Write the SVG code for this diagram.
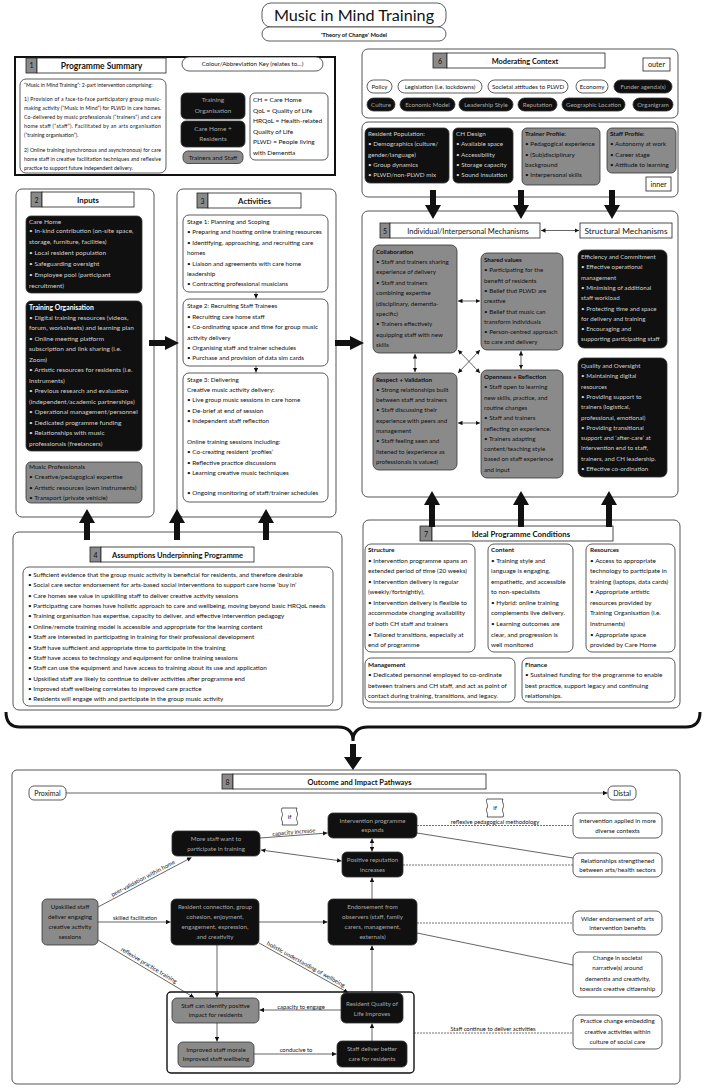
<svg xmlns="http://www.w3.org/2000/svg" width="706" height="1088" viewBox="0 0 706 1088">
<style>
text{font-family:Lato,"Open Sans","Liberation Sans",sans-serif;fill:#111}
.s{font-size:6.5px}
.p{font-size:6.3px}
.a{font-size:6.3px}
.i{font-size:6.4px}
.s5{font-size:5.2px}
.m{font-size:6.2px}
.w{fill:#cfcfcf}
.g{fill:#a8a8a8}
.b{font-weight:bold}
.c{text-anchor:middle}
.box{fill:#fff;stroke:#555;stroke-width:1}
.blk{fill:#101010;stroke:#333;stroke-width:0.8}
.gry{fill:#8a8a8a;stroke:#333;stroke-width:0.8}
.num{fill:#8a8a8a;stroke:#222;stroke-width:0.8}
.hb{fill:#fff;stroke:#222;stroke-width:0.8}
.wb{fill:#fff;stroke:#333;stroke-width:0.8}
.big{fill:#111}
.ln{stroke:#222;stroke-width:0.7;fill:none}
.dl{stroke:#333;stroke-width:0.7;stroke-dasharray:2 1;fill:none}
.lb{font-size:5.8px}
</style>
<defs>
<marker id="a" viewBox="0 0 6 6" refX="6" refY="3" markerWidth="4.5" markerHeight="4.5" orient="auto-start-reverse" markerUnits="userSpaceOnUse"><path d="M0,0L6,3L0,6Z" fill="#111"/></marker>
</defs>
<rect width="706" height="1088" fill="#fff"/>

<g id="title">
<rect x="262" y="3" width="184" height="24" rx="9" class="wb"/>
<rect x="262" y="27" width="184" height="14" rx="7" class="wb"/>
<text x="354" y="21" class="c" style="font-size:16.2px">Music in Mind Training</text>
<text x="354" y="36.5" class="c b" style="font-size:5.8px">'Theory of Change' Model</text>
</g>

<g id="s1">
<rect x="15" y="57" width="320" height="118" fill="#fff" stroke="#111" stroke-width="2"/>
<rect x="26" y="58" width="11" height="15" class="num"/>
<rect x="37" y="58" width="129" height="15" class="hb"/>
<text x="31.5" y="68" class="c" style="font-size:7px">1</text>
<text x="101.5" y="68.5" class="c b" style="font-size:8.5px">Programme Summary</text>
<rect x="20" y="79" width="146" height="94" rx="6" class="wb"/>
<text x="24" y="86.7" class="s5">“Music in Mind Training”: 2-part intervention comprising:</text>
<text x="24" y="100.7" class="s5" textLength="137" lengthAdjust="spacing">1) Provision of a face-to-face participatory group music-</text>
<text x="24" y="109.7" class="s5" textLength="137" lengthAdjust="spacing">making activity (“Music in Mind”) for PLWD in care homes.</text>
<text x="24" y="118.7" class="s5" textLength="137" lengthAdjust="spacing">Co-delivered by music professionals (“trainers”) and care</text>
<text x="24" y="128" class="s5" textLength="137" lengthAdjust="spacing">home staff (“staff”). Facilitated by an arts organisation</text>
<text x="24" y="137.2" class="s5">(“training organisation”).</text>
<text x="24" y="151.5" class="s5" textLength="137" lengthAdjust="spacing">2) Online training (synchronous and asynchronous) for care</text>
<text x="24" y="160.5" class="s5" textLength="137" lengthAdjust="spacing">home staff in creative facilitation techniques and reflexive</text>
<text x="24" y="169.5" class="s5">practice to support future independent delivery.</text>
</g>

<g id="key">
<rect x="182" y="57" width="141" height="14" rx="7" class="wb"/>
<text x="252.5" y="66.2" class="c" style="font-size:6.2px">Colour/Abbreviation Key (relates to...)</text>
<rect x="181" y="93" width="64" height="26" rx="5" class="blk"/>
<text x="213" y="102.3" class="c g" style="font-size:6.5px">Training</text>
<text x="213" y="112.8" class="c g" style="font-size:6.5px">Organisation</text>
<rect x="181" y="121" width="64" height="26" rx="5" class="blk"/>
<text x="213" y="130.8" class="c g" style="font-size:6.5px">Care Home +</text>
<text x="213" y="141.3" class="c g" style="font-size:6.5px">Residents</text>
<rect x="183" y="151" width="60" height="12.5" rx="5" class="gry"/>
<text x="213" y="159.6" class="c" style="font-size:6.4px">Trainers and Staff</text>
<rect x="250" y="93" width="78" height="67" rx="5" class="wb"/>
<text x="253" y="102.2" style="font-size:6.5px">CH = Care Home</text>
<text x="253" y="112.7" style="font-size:6.5px">QoL = Quality of Life</text>
<text x="253" y="123.2" style="font-size:6.5px">HRQoL = Health-related</text>
<text x="253" y="133.7" style="font-size:6.5px">Quality of Life</text>
<text x="253" y="144.2" style="font-size:6.5px">PLWD = People living</text>
<text x="253" y="154.7" style="font-size:6.5px">with Dementia</text>
</g>

<g id="s6">
<rect x="362" y="49" width="316" height="69" rx="6" class="box"/>
<rect x="433" y="53" width="14" height="15" class="num"/>
<rect x="447" y="53" width="158" height="15" class="hb"/>
<text x="440" y="63.5" class="c" style="font-size:7px">6</text>
<text x="525" y="63.5" class="c b" style="font-size:7.4px">Moderating Context</text>
<rect x="643" y="58" width="27" height="13" class="hb"/>
<text x="656.5" y="67" class="c" style="font-size:7.2px">outer</text>
<g style="font-size:6.1px">
<rect x="367" y="80" width="25" height="13" rx="6.5" class="wb"/><text x="379.5" y="88.7" class="c">Policy</text>
<rect x="398" y="80" width="84" height="13" rx="6.5" class="wb"/><text x="440" y="88.7" class="c">Legislation (i.e. lockdowns)</text>
<rect x="488" y="80" width="80" height="13" rx="6.5" class="wb"/><text x="528" y="88.7" class="c">Societal attitudes to PLWD</text>
<rect x="576" y="80" width="32" height="13" rx="6.5" class="wb"/><text x="592" y="88.7" class="c">Economy</text>
<rect x="614" y="80" width="58" height="13" rx="6.5" class="blk"/><text x="643" y="88.7" class="c g">Funder agenda(s)</text>
<rect x="367" y="98" width="28" height="13" rx="6.5" class="blk"/><text x="381" y="106.7" class="c g">Culture</text>
<rect x="400" y="98" width="55" height="13" rx="6.5" class="blk"/><text x="427.5" y="106.7" class="c g">Economic Model</text>
<rect x="459" y="98" width="54" height="13" rx="6.5" class="blk"/><text x="486" y="106.7" class="c g">Leadership Style</text>
<rect x="518" y="98" width="39" height="13" rx="6.5" class="blk"/><text x="537.5" y="106.7" class="c g">Reputation</text>
<rect x="562" y="98" width="63" height="13" rx="6.5" class="blk"/><text x="593.5" y="106.7" class="c g">Geographic Location</text>
<rect x="633" y="98" width="40" height="13" rx="6.5" class="blk"/><text x="653" y="106.7" class="c g">Organigram</text>
</g>
<rect x="362" y="122" width="316" height="75" rx="6" class="box"/>
<rect x="646" y="177" width="25" height="14" class="hb"/>
<text x="658.5" y="187" class="c" style="font-size:7.2px">inner</text>
<rect x="365" y="128" width="84" height="55" rx="5" class="blk"/>
<text x="368" y="136" class="p w">Resident Population:</text>
<text x="368" y="146.3" class="p w">• Demographics (culture/</text>
<text x="368" y="156.6" class="p w">gender/language)</text>
<text x="368" y="166.9" class="p w">• Group dynamics</text>
<text x="368" y="177.2" class="p w">• PLWD/non-PLWD mix</text>
<rect x="453" y="128" width="60" height="55" rx="5" class="blk"/>
<text x="456" y="136" class="p w">CH Design</text>
<text x="456" y="146.3" class="p w">• Available space</text>
<text x="456" y="156.6" class="p w">• Accessibility</text>
<text x="456" y="166.9" class="p w">• Storage capacity</text>
<text x="456" y="177.2" class="p w">• Sound insulation</text>
<rect x="522" y="128" width="78" height="57" rx="5" class="gry"/>
<text x="525" y="136" class="p b">Trainer Profile:</text>
<text x="525" y="146.3" class="p">• Pedagogical experience</text>
<text x="525" y="156.6" class="p">• (Sub)disciplinary</text>
<text x="525" y="166.9" class="p">background</text>
<text x="525" y="177.2" class="p">• Interpersonal skills</text>
<rect x="607" y="128" width="69" height="45" rx="5" class="gry"/>
<text x="610" y="136" class="p b">Staff Profile:</text>
<text x="610" y="146.3" class="p">• Autonomy at work</text>
<text x="610" y="156.6" class="p">• Career stage</text>
<text x="610" y="166.9" class="p">• Attitude to learning</text>
</g>

<g id="s2">
<rect x="16" y="189" width="138" height="328" rx="6" class="box"/>
<rect x="31" y="192" width="11" height="15" class="num"/>
<rect x="42" y="192" width="92" height="15" class="hb"/>
<text x="36.5" y="202.5" class="c" style="font-size:7px">2</text>
<text x="88" y="203" class="c b" style="font-size:7.8px">Inputs</text>
<rect x="26" y="216" width="116" height="77" rx="5" class="blk"/>
<text x="29" y="224" class="s w">Care Home</text>
<text x="29" y="233" class="s w">• In-kind contribution (on-site space,</text>
<text x="29" y="243.8" class="s w">storage, furniture, facilities)</text>
<text x="29" y="255.2" class="s w">• Local resident population</text>
<text x="29" y="266" class="s w">• Safeguarding oversight</text>
<text x="29" y="277" class="s w">• Employee pool (participant</text>
<text x="29" y="287.7" class="s w">recruitment)</text>
<rect x="26" y="301" width="116" height="150" rx="5" class="blk"/>
<text x="29" y="309.5" class="b" style="fill:#fff;font-size:6.8px">Training Organisation</text>
<text x="29" y="319.5" class="s w">• Digital training resources (videos,</text>
<text x="29" y="330" class="s w">forum, worksheets) and learning plan</text>
<text x="29" y="340.5" class="s w">• Online meeting platform</text>
<text x="29" y="351" class="s w">subscription and link sharing (i.e.</text>
<text x="29" y="361.5" class="s w">Zoom)</text>
<text x="29" y="372" class="s w">• Artistic resources for residents (i.e.</text>
<text x="29" y="382.5" class="s w">Instruments)</text>
<text x="29" y="393" class="s w">• Previous research and evaluation</text>
<text x="29" y="403.5" class="s w">(independent/academic partnerships)</text>
<text x="29" y="414" class="s w">• Operational management/personnel</text>
<text x="29" y="424.5" class="s w">• Dedicated programme funding</text>
<text x="29" y="435" class="s w">• Relationships with music</text>
<text x="29" y="445.5" class="s w">professionals (freelancers)</text>
<rect x="26" y="462" width="116" height="41" rx="5" class="gry"/>
<text x="29" y="468.8" class="s">Music Professionals</text>
<text x="29" y="479" class="s">• Creative/pedagogical expertise</text>
<text x="29" y="489.5" class="s">• Artistic resources (own instruments)</text>
<text x="29" y="500" class="s">• Transport (private vehicle)</text>
</g>

<g id="s3">
<rect x="177" y="189" width="159" height="328" rx="6" class="box"/>
<rect x="197" y="193" width="11" height="15" class="num"/>
<rect x="208" y="193" width="93" height="15" class="hb"/>
<text x="202.5" y="203.5" class="c" style="font-size:7px">3</text>
<text x="254.5" y="204" class="c b" style="font-size:7.8px">Activities</text>
<rect x="183" y="215" width="145" height="77" rx="6" class="wb"/>
<text x="187" y="224" class="a">Stage 1: Planning and Scoping</text>
<text x="187" y="234.4" class="a">• Preparing and hosting online training resources</text>
<text x="187" y="244.8" class="a">• Identifying, approaching, and recruiting care</text>
<text x="187" y="255.2" class="a">homes</text>
<text x="187" y="265.6" class="a">• Liaison and agreements with care home</text>
<text x="187" y="276" class="a">leadership</text>
<text x="187" y="286.4" class="a">• Contracting professional musicians</text>
<rect x="183" y="299" width="145" height="67" rx="6" class="wb"/>
<text x="187" y="308.3" class="a">Stage 2: Recruiting Staff Trainees</text>
<text x="187" y="318.7" class="a">• Recruiting care home staff</text>
<text x="187" y="329.1" class="a">• Co-ordinating space and time for group music</text>
<text x="187" y="339.5" class="a">activity delivery</text>
<text x="187" y="349.9" class="a">• Organising staff and trainer schedules</text>
<text x="187" y="360.3" class="a">• Purchase and provision of data sim cards</text>
<rect x="183" y="373" width="145" height="129" rx="6" class="wb"/>
<text x="187" y="382" class="a">Stage 3: Delivering</text>
<text x="187" y="392.2" class="a">Creative music activity delivery:</text>
<text x="187" y="402.4" class="a">• Live group music sessions in care home</text>
<text x="187" y="412.7" class="a">• De-brief at end of session</text>
<text x="187" y="423" class="a">• Independent staff reflection</text>
<text x="187" y="443.7" class="a">Online training sessions including:</text>
<text x="187" y="454.3" class="a">• Co-creating resident ‘profiles’</text>
<text x="187" y="464.7" class="a">• Reflective practice discussions</text>
<text x="187" y="475.3" class="a">• Learning creative music techniques</text>
<text x="187" y="495.3" class="a">• Ongoing monitoring of staff/trainer schedules</text>
</g>

<g id="s5">
<rect x="362" y="211" width="316" height="286" rx="6" class="box"/>
<rect x="380" y="223" width="10" height="15" class="num"/>
<rect x="390" y="223" width="150" height="15" class="hb"/>
<text x="385" y="233.5" class="c" style="font-size:7px">5</text>
<text x="468" y="233.6" class="c" style="font-size:7.5px">Individual/Interpersonal Mechanisms</text>
<rect x="580" y="223" width="92" height="15" class="hb"/>
<text x="626" y="233.9" class="c" style="font-size:8.3px">Structural Mechanisms</text>
<rect x="373" y="245" width="84" height="108" rx="6" class="gry"/>
<text x="376" y="253.7" class="m b">Collaboration</text>
<text x="376" y="264" class="m">• Staff and trainers sharing</text>
<text x="376" y="274.4" class="m">experience of delivery</text>
<text x="376" y="284.8" class="m">• Staff and trainers</text>
<text x="376" y="295.2" class="m">combining expertise</text>
<text x="376" y="305.6" class="m">(disciplinary, dementia-</text>
<text x="376" y="316" class="m">specific)</text>
<text x="376" y="326.4" class="m">• Trainers effectively</text>
<text x="376" y="336.8" class="m">equipping staff with new</text>
<text x="376" y="347.2" class="m">skills</text>
<rect x="481" y="253" width="82" height="97" rx="6" class="gry"/>
<text x="484" y="262" class="m b">Shared values</text>
<text x="484" y="272.3" class="m">• Participating for the</text>
<text x="484" y="282.6" class="m">benefit of residents</text>
<text x="484" y="292.9" class="m">• Belief that PLWD are</text>
<text x="484" y="303.2" class="m">creative</text>
<text x="484" y="313.5" class="m">• Belief that music can</text>
<text x="484" y="323.8" class="m">transform individuals</text>
<text x="484" y="334.1" class="m">• Person-centred approach</text>
<text x="484" y="344.4" class="m">to care and delivery</text>
<rect x="373" y="373" width="84" height="97" rx="6" class="gry"/>
<text x="376" y="381.5" class="m b">Respect + Validation</text>
<text x="376" y="391.8" class="m">• Strong relationships built</text>
<text x="376" y="402.1" class="m">between staff and trainers</text>
<text x="376" y="412.4" class="m">• Staff discussing their</text>
<text x="376" y="422.7" class="m">experience with peers and</text>
<text x="376" y="433" class="m">management</text>
<text x="376" y="443.3" class="m">• Staff feeling seen and</text>
<text x="376" y="453.6" class="m">listened to (experience as</text>
<text x="376" y="463.9" class="m">professionals is valued)</text>
<rect x="481" y="370" width="82" height="108" rx="6" class="gry"/>
<text x="484" y="379" class="m b">Openness + Reflection</text>
<text x="484" y="389.3" class="m">• Staff open to learning</text>
<text x="484" y="399.6" class="m">new skills, practice, and</text>
<text x="484" y="409.9" class="m">routine changes</text>
<text x="484" y="420.2" class="m">• Staff and trainers</text>
<text x="484" y="430.5" class="m">reflecting on experience.</text>
<text x="484" y="440.8" class="m">• Trainers adapting</text>
<text x="484" y="451.1" class="m">content/teaching style</text>
<text x="484" y="461.4" class="m">based on staff experience</text>
<text x="484" y="471.7" class="m">and input</text>
<rect x="578" y="250" width="89" height="98" rx="6" class="blk"/>
<text x="581" y="259" class="m w">Efficiency and Commitment</text>
<text x="581" y="269.3" class="m w">• Effective operational</text>
<text x="581" y="279.6" class="m w">management</text>
<text x="581" y="289.9" class="m w">• Minimising of additional</text>
<text x="581" y="300.2" class="m w">staff workload</text>
<text x="581" y="310.5" class="m w">• Protecting time and space</text>
<text x="581" y="320.8" class="m w">for delivery and training</text>
<text x="581" y="331.1" class="m w">• Encouraging and</text>
<text x="581" y="341.4" class="m w">supporting participating staff</text>
<rect x="578" y="358" width="89" height="119" rx="6" class="blk"/>
<text x="581" y="368" class="m w">Quality and Oversight</text>
<text x="581" y="378.3" class="m w">• Maintaining digital</text>
<text x="581" y="388.6" class="m w">resources</text>
<text x="581" y="398.9" class="m w">• Providing support to</text>
<text x="581" y="409.2" class="m w">trainers (logistical,</text>
<text x="581" y="419.5" class="m w">professional, emotional)</text>
<text x="581" y="429.8" class="m w">• Providing transitional</text>
<text x="581" y="440.1" class="m w">support and ‘after-care’ at</text>
<text x="581" y="450.4" class="m w">intervention end to staff,</text>
<text x="581" y="460.7" class="m w">trainers, and CH leadership.</text>
<text x="581" y="471" class="m w">• Effective co-ordination</text>
</g>

<g id="s4">
<rect x="13" y="532" width="329" height="178" rx="6" class="box"/>
<rect x="90" y="547" width="11" height="15" class="num"/>
<rect x="101" y="547" width="153" height="15" class="hb"/>
<text x="95.5" y="557.5" class="c" style="font-size:7px">4</text>
<text x="177.5" y="558" class="c b" style="font-size:7.5px">Assumptions Underpinning Programme</text>
<rect x="23" y="567" width="310" height="139" rx="6" class="wb"/>
<g style="font-size:6.3px">
<text x="28" y="577">• Sufficient evidence that the group music activity is beneficial for residents, and therefore desirable</text>
<text x="28" y="587.4">• Social care sector endorsement for arts-based social interventions to support care home ‘buy in’</text>
<text x="28" y="597.7">• Care homes see value in upskilling staff to deliver creative activity sessions</text>
<text x="28" y="608.1">• Participating care homes have holistic approach to care and wellbeing, moving beyond basic HRQoL needs</text>
<text x="28" y="618.4">• Training organisation has expertise, capacity to deliver, and effective intervention pedagogy</text>
<text x="28" y="628.8">• Online/remote training model is accessible and appropriate for the learning content</text>
<text x="28" y="639.2">• Staff are interested in participating in training for their professional development</text>
<text x="28" y="649.5">• Staff have sufficient and appropriate time to participate in the training</text>
<text x="28" y="659.9">• Staff have access to technology and equipment for online training sessions</text>
<text x="28" y="670.2">• Staff can use the equipment and have access to training about its use and application</text>
<text x="28" y="680.6">• Upskilled staff are likely to continue to deliver activities after programme end</text>
<text x="28" y="691">• Improved staff wellbeing correlates to improved care practice</text>
<text x="28" y="701.3">• Residents will engage with and participate in the group music activity</text>
</g>
</g>

<g id="s7">
<rect x="363" y="520" width="317" height="188" rx="6" class="box"/>
<rect x="420" y="526" width="12" height="15" class="num"/>
<rect x="432" y="526" width="181" height="15" class="hb"/>
<text x="426" y="536.5" class="c" style="font-size:7px">7</text>
<text x="521" y="537" class="c b" style="font-size:7.8px">Ideal Programme Conditions</text>
<rect x="365" y="544" width="110" height="108" rx="6" class="wb"/>
<text x="368" y="552" class="i b">Structure</text>
<text x="368" y="562.6" class="i">• Intervention programme spans an</text>
<text x="368" y="573.1" class="i">extended period of time (20 weeks)</text>
<text x="368" y="583.7" class="i">• Intervention delivery is regular</text>
<text x="368" y="594.2" class="i">(weekly/fortnightly),</text>
<text x="368" y="604.8" class="i">•  Intervention delivery is flexible to</text>
<text x="368" y="615.4" class="i">accommodate changing availability</text>
<text x="368" y="625.9" class="i">of both CH staff and trainers</text>
<text x="368" y="636.5" class="i">• Tailored transitions, especially at</text>
<text x="368" y="647" class="i">end of programme</text>
<rect x="488" y="544" width="85" height="108" rx="6" class="wb"/>
<text x="491" y="552" class="i b">Content</text>
<text x="491" y="562.6" class="i">• Training style and</text>
<text x="491" y="573.1" class="i">language is engaging,</text>
<text x="491" y="583.7" class="i">empathetic, and accessible</text>
<text x="491" y="594.2" class="i">to non-specialists</text>
<text x="491" y="604.8" class="i">• Hybrid: online training</text>
<text x="491" y="615.4" class="i">complements live delivery.</text>
<text x="491" y="625.9" class="i">• Learning outcomes are</text>
<text x="491" y="636.5" class="i">clear, and progression is</text>
<text x="491" y="647" class="i">well monitored</text>
<rect x="586" y="544" width="89" height="108" rx="6" class="wb"/>
<text x="590" y="552" class="i b">Resources</text>
<text x="590" y="562.6" class="i">• Access to appropriate</text>
<text x="590" y="573.1" class="i">technology to participate in</text>
<text x="590" y="583.7" class="i">training (laptops, data cards)</text>
<text x="590" y="594.2" class="i">• Appropriate artistic</text>
<text x="590" y="604.8" class="i">resources provided by</text>
<text x="590" y="615.4" class="i">Training Organisation (i.e.</text>
<text x="590" y="625.9" class="i">Instruments)</text>
<text x="590" y="636.5" class="i">• Appropriate space</text>
<text x="590" y="647" class="i">provided by Care Home</text>
<rect x="365" y="658" width="150" height="44" rx="6" class="wb"/>
<text x="368" y="666.5" class="i b">Management</text>
<text x="368" y="677" class="i">• Dedicated personnel employed to co-ordinate</text>
<text x="368" y="687.5" class="i">between trainers and CH staff, and act as point of</text>
<text x="368" y="698" class="i">contact during training, transitions, and legacy.</text>
<rect x="522" y="658" width="153" height="44" rx="6" class="wb"/>
<text x="525" y="666.5" class="i b">Finance</text>
<text x="525" y="677" class="i">• Sustained funding for the programme to enable</text>
<text x="525" y="687.5" class="i">best practice, support legacy and continuing</text>
<text x="525" y="698" class="i">relationships.</text>
</g>

<g id="s8">
<rect x="12" y="770" width="668" height="314" rx="5" class="box"/>
<rect x="222" y="774" width="11" height="15" class="num"/>
<rect x="233" y="774" width="253" height="15" class="hb"/>
<text x="227.5" y="784.5" class="c" style="font-size:7px">8</text>
<text x="359.5" y="785" class="c b" style="font-size:7.5px">Outcome and Impact Pathways</text>
<rect x="29" y="786" width="37" height="14" rx="5" class="wb"/>
<text x="47.5" y="795.5" class="c" style="font-size:7px">Proximal</text>
<rect x="608" y="786" width="28" height="14" rx="5" class="wb"/>
<text x="622" y="795.5" class="c" style="font-size:7px">Distal</text>
<path d="M282,808H297c-2,3 2,5 0,8.5c-2,3 2,5 0,8.5H282c2,-3 -2,-5 0,-8.5c2,-3 -2,-5 0,-8.5Z" class="wb"/>
<text x="289.5" y="818.5" class="c" style="font-size:6.3px">if</text>
<path d="M487,799H503c-2,3 2,5 0,9c-2,3 2,6 0,9H487c2,-3 -2,-6 0,-9c2,-3 -2,-6 0,-9Z" class="wb"/>
<text x="495" y="810" class="c" style="font-size:6.3px">if</text>
</g>

<g id="o_morestaff"><rect x="172" y="831" width="88" height="25" rx="5" class="blk"/>
<text x="216" y="840.7" class="c m g">More staff want to</text><text x="216" y="850.7" class="c m g">participate in training</text></g>
<g id="o_expands"><rect x="328" y="813" width="89" height="25" rx="5" class="blk"/>
<text x="372.5" y="822.7" class="c m g">Intervention programme</text><text x="372.5" y="832.2" class="c m g">expands</text></g>
<g id="o_reputation"><rect x="342" y="852" width="61" height="25" rx="5" class="blk"/>
<text x="372.5" y="862.2" class="c m g">Positive reputation</text><text x="372.5" y="871.7" class="c m g">increases</text></g>
<g id="o_upskilled"><rect x="42" y="899" width="56" height="46" rx="5" class="gry"/>
<text x="70" y="909.2" class="c m">Upskilled staff</text><text x="70" y="919.2" class="c m">deliver engaging</text><text x="70" y="929.2" class="c m">creative activity</text><text x="70" y="939.2" class="c m">sessions</text></g>
<g id="o_connection"><rect x="171" y="899" width="88" height="46" rx="5" class="blk"/>
<text x="215" y="909.2" class="c m g">Resident connection, group</text><text x="215" y="919.2" class="c m g">cohesion, enjoyment,</text><text x="215" y="929.2" class="c m g">engagement, expression,</text><text x="215" y="939.2" class="c m g">and creativity</text></g>
<g id="o_endorsement"><rect x="328" y="899" width="89" height="46" rx="5" class="blk"/>
<text x="372.5" y="909.2" class="c m g">Endorsement from</text><text x="372.5" y="919.2" class="c m g">observers (staff, family</text><text x="372.5" y="929.2" class="c m g">carers, management,</text><text x="372.5" y="939.2" class="c m g">externals)</text></g>
<g id="o_applied"><rect x="573" y="813" width="89" height="25" rx="6" class="wb"/>
<text x="617.5" y="823.2" class="c m">Intervention applied in more</text><text x="617.5" y="832.7" class="c m">diverse contexts</text></g>
<g id="o_relationships"><rect x="573" y="853" width="89" height="24" rx="6" class="wb"/>
<text x="617.5" y="862.7" class="c m">Relationships strengthened</text><text x="617.5" y="872.2" class="c m">between arts/health sectors</text></g>
<g id="o_wider"><rect x="573" y="911" width="89" height="24" rx="6" class="wb"/>
<text x="617.5" y="920.7" class="c m">Wider endorsement of arts</text><text x="617.5" y="930.2" class="c m">intervention benefits</text></g>
<g id="o_narrative"><rect x="573" y="952" width="89" height="45" rx="6" class="wb"/>
<text x="617.5" y="959.7" class="c m">Change in societal</text><text x="617.5" y="970.2" class="c m">narrative(s) around</text><text x="617.5" y="980.7" class="c m">dementia and creativity,</text><text x="617.5" y="991.2" class="c m">towards creative citizenship</text></g>
<g id="o_practice"><rect x="573" y="1015" width="89" height="34" rx="6" class="wb"/>
<text x="617.5" y="1023.2" class="c m">Practice change embedding</text><text x="617.5" y="1033.7" class="c m">creative activities within</text><text x="617.5" y="1044.2" class="c m">culture of social care</text></g>
<g id="o_group"><rect x="167" y="992" width="247" height="81" rx="4" fill="none" stroke="#111" stroke-width="1.4"/></g>
<g id="o_identify"><rect x="172" y="998" width="87" height="25" rx="5" class="gry"/>
<text x="215.5" y="1007.7" class="c m">Staff can identify positive</text><text x="215.5" y="1017.2" class="c m">impact for residents</text></g>
<g id="o_morale"><rect x="178" y="1042" width="76" height="25" rx="5" class="gry"/>
<text x="216" y="1051.7" class="c m">Improved staff morale</text><text x="216" y="1061.2" class="c m">Improved staff wellbeing</text></g>
<g id="o_qol"><rect x="341" y="993" width="62" height="30" rx="5" class="blk"/>
<text x="372" y="1006.2" class="c m g">Resident Quality of</text><text x="372" y="1016.2" class="c m g">Life Improves</text></g>
<g id="o_better"><rect x="337" y="1041" width="70" height="26" rx="5" class="blk"/>
<text x="372" y="1051.2" class="c m g">Staff deliver better</text><text x="372" y="1061.2" class="c m g">care for residents</text></g>

<g id="connectors">
<polygon class="big" points="84,540 90,540 90,523 95,523 87,509 79,523 84,523"/>
<polygon class="big" points="174,540 180,540 180,523 185,523 177,509 169,523 174,523"/>
<polygon class="big" points="263,540 269,540 269,523 274,523 266,509 258,523 263,523"/>
<polygon class="big" points="149,340 165,340 165,336 179,343 165,350 165,346 149,346"/>
<polygon class="big" points="335,340 350,340 350,336 364,343 350,350 350,346 335,346"/>
<polygon class="big" points="430,190 436,190 436,205 441,205 433,219 425,205 430,205"/>
<polygon class="big" points="518,190 524,190 524,205 529,205 521,219 513,205 518,205"/>
<polygon class="big" points="609,190 615,190 615,205 620,205 612,219 604,205 609,205"/>
<polygon class="big" points="429,527 435,527 435,505 440,505 432,491 424,505 429,505"/>
<polygon class="big" points="518,527 524,527 524,505 529,505 521,491 513,505 518,505"/>
<polygon class="big" points="606,527 612,527 612,505 617,505 609,491 601,505 606,505"/>
<path d="M6,712Q6,727 20,727L338,727Q353,727 353,741Q353,727 368,727L686,727Q700,727 700,712" fill="none" stroke="#111" stroke-width="3"/>
<polygon class="big" points="350,744 356,744 356,757 362,757 353,770 344,757 350,757"/>
<line x1="256" y1="292" x2="256" y2="298.5" class="ln" marker-end="url(#a)"/>
<line x1="256" y1="366" x2="256" y2="372.5" class="ln" marker-end="url(#a)"/>
<line x1="541" y1="230.5" x2="579" y2="230.5" class="ln" marker-start="url(#a)" marker-end="url(#a)"/>
<line x1="458" y1="301" x2="480" y2="301" class="ln" marker-start="url(#a)" marker-end="url(#a)"/>
<line x1="458" y1="423" x2="480" y2="423" class="ln" marker-start="url(#a)" marker-end="url(#a)"/>
<line x1="415" y1="354" x2="415" y2="372" class="ln" marker-start="url(#a)" marker-end="url(#a)"/>
<line x1="521" y1="351" x2="521" y2="369" class="ln" marker-start="url(#a)" marker-end="url(#a)"/>
<line x1="458" y1="350" x2="480" y2="373" class="ln" marker-start="url(#a)" marker-end="url(#a)"/>
<line x1="480" y1="350" x2="458" y2="373" class="ln" marker-start="url(#a)" marker-end="url(#a)"/>
<line x1="66" y1="793" x2="607.5" y2="793" class="ln" marker-end="url(#a)"/>
<line x1="98" y1="907" x2="191.5" y2="857.5" class="ln" marker-end="url(#a)"/>
<line x1="98" y1="922" x2="170.5" y2="922" class="ln" marker-end="url(#a)"/>
<line x1="260" y1="838" x2="327.5" y2="833" class="ln" marker-end="url(#a)"/>
<line x1="261" y1="850" x2="341.5" y2="861" class="ln" marker-start="url(#a)" marker-end="url(#a)"/>
<line x1="372" y1="838.5" x2="372" y2="851.5" class="ln" marker-start="url(#a)" marker-end="url(#a)"/>
<line x1="372" y1="899" x2="372" y2="877.5" class="ln" marker-end="url(#a)"/>
<line x1="259" y1="922" x2="327.5" y2="922" class="ln" marker-end="url(#a)"/>
<line x1="417" y1="825.5" x2="573" y2="825.5" class="dl"/>
<line x1="417" y1="833" x2="573" y2="858" class="ln"/>
<line x1="403" y1="865" x2="573" y2="865" class="dl"/>
<line x1="417" y1="923" x2="573" y2="923" class="dl"/>
<line x1="417" y1="933" x2="573" y2="965" class="ln"/>
<line x1="217" y1="945" x2="217" y2="997.5" class="ln" marker-end="url(#a)"/>
<line x1="98" y1="940" x2="194" y2="997.5" class="ln" marker-end="url(#a)"/>
<line x1="259" y1="943" x2="348" y2="992.5" class="ln" marker-end="url(#a)"/>
<line x1="341" y1="1010" x2="259.5" y2="1010" class="ln" marker-end="url(#a)"/>
<line x1="217" y1="1023" x2="217" y2="1041.5" class="ln" marker-end="url(#a)"/>
<line x1="254" y1="1054" x2="336.5" y2="1054" class="ln" marker-end="url(#a)"/>
<line x1="372" y1="1041" x2="372" y2="1023.5" class="ln" marker-end="url(#a)"/>
<line x1="372" y1="993" x2="372" y2="945.5" class="ln" marker-end="url(#a)"/>
<line x1="414" y1="1033" x2="573" y2="1033" class="dl"/>
<text x="144" y="880" class="c lb" transform="rotate(-28 144 880)">peer-validation within home</text>
<text x="135" y="920" class="c lb">skilled facilitation</text>
<text x="294" y="834" class="c lb" transform="rotate(-5 294 834)">capacity increase</text>
<text x="495" y="823.5" class="c lb">reflexive pedagogical methodology</text>
<text x="148" y="967" class="c lb" transform="rotate(31 148 967)">reflexive practice training</text>
<text x="305" y="966" class="c lb" transform="rotate(29 305 966)">holistic understanding of wellbeing</text>
<text x="301" y="1008.5" class="c lb">capacity to engage</text>
<text x="296" y="1052" class="c lb">conducive to</text>
<text x="493" y="1031" class="c lb">Staff continue to deliver activities</text>
</g>
</svg>
